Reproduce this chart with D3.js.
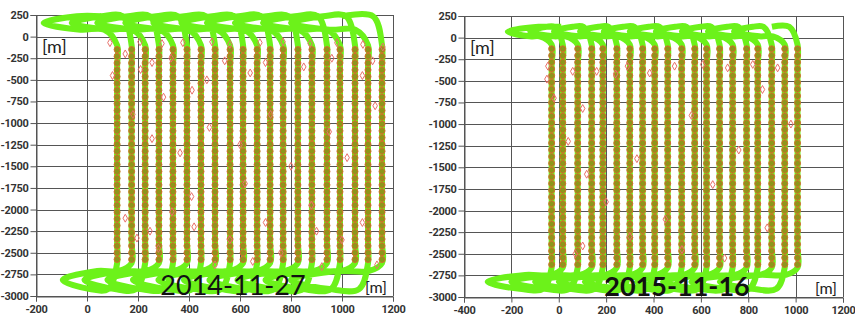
<!DOCTYPE html>
<html>
<head>
<meta charset="utf-8">
<script src="https://cdn.jsdelivr.net/npm/d3@7"></script>
<style>
  body { margin: 0; background: #fff; }
  .tick text { font-family: Roboto, "Liberation Sans", sans-serif; font-weight: bold; font-size: 11px; fill: #333; letter-spacing: -0.3px; }
  .tick line, .domain { stroke: #555; }
  .unit { font-family: Lato, "Open Sans", sans-serif; font-size: 18px; fill: #222; }
  .date { font-family: Lato, "Open Sans", sans-serif; font-size: 27px; fill: #111; }
</style>
</head>
<body>
<svg id="chart" width="855" height="320"></svg>
<script>

////////// Data ///////////

var yTicks = [250, 0, -250, -500, -750, -1000, -1250, -1500, -1750, -2000, -2250, -2500, -2750, -3000];
var xTicks2014 = [-200, 0, 200, 400, 600, 800, 1000, 1200];
var xTicks2015 = [-400, -200, 0, 200, 400, 600, 800, 1000, 1200];

// flight legs (x of each line, in flying order: down, up, down, ...)
var legs2014 = [118, 175, 228, 282, 337, 392, 447, 502, 561, 612, 667, 718, 769, 827, 882, 941, 992, 1051, 1102, 1157];
// west end of the turn loops (top: one per down leg + end point, bottom: one per up leg)
var topWest2014 = [-170, -60, 40, 150, 260, 370, 470, 580, 690, 800, 1000];
var botWest2014 = [-95, -10, 80, 180, 280, 380, 480, 590, 700, 800];
// [loop top, loop bottom, leg top, leg bottom, bottom loop top, bottom loop bottom]
var levels2014 = [235, 80, -100, -2620, -2710, -2920];

var legs2015 = [-30, 17, 80, 139, 186, 245, 300, 354, 405, 460, 519, 574, 624, 679, 734, 793, 840, 899, 954, 1008];
var topWest2015 = [-215, -120, -20, 90, 190, 300, 410, 520, 630, 740, 900];
var botWest2015 = [-300, -200, -100, 0, 110, 220, 330, 440, 560, 680];
var levels2015 = [125, 15, -80, -2660, -2745, -2905];

// measurement depths along each leg
var samples2014 = [-150, -228, -305, -385, -462, -540, -620, -698, -775, -855, -932, -1010, -1090, -1168, -1245, -1325,
  -1402, -1480, -1560, -1638, -1715, -1795, -1872, -1950, -2030, -2108, -2185, -2265, -2342, -2420, -2500, -2578];
var samples2015 = [-130, -208, -285, -362, -440, -518, -596, -674, -752, -830, -908, -986, -1064, -1142, -1220, -1298,
  -1376, -1454, -1532, -1610, -1688, -1766, -1844, -1922, -2000, -2078, -2156, -2234, -2312, -2390, -2468, -2546, -2624];

// stray points (red diamonds)
var stray2014 = [[90, -70], [208, -60], [294, -80], [376, -70], [490, -60], [560, -90], [678, -70], [769, -60], [875, -80],
  [980, -70], [1082, -90], [1160, -120], [100, -450], [150, -200], [210, -380], [255, -300], [330, -250], [412, -620],
  [470, -500], [540, -280], [640, -420], [700, -300], [850, -350], [960, -250], [1120, -280], [1080, -450],
  [255, -1180], [365, -1345], [180, -900], [300, -700], [480, -1050], [600, -1250], [720, -900], [800, -1500],
  [950, -1100], [1020, -1400], [1130, -800], [620, -1700], [410, -1850], [880, -1950],
  [196, -2330], [247, -2250], [333, -2025], [280, -2450], [420, -2200], [502, -2640], [560, -2350], [700, -2150],
  [760, -2500], [900, -2250], [921, -2660], [1000, -2350], [1137, -2640], [1080, -2150], [650, -2600], [150, -2100]];
var stray2015 = [[-46, -330], [-50, -480], [59, -390], [101, -820], [160, -390], [240, -420], [290, -330], [384, -410],
  [489, -330], [608, -310], [713, -350], [819, -310], [924, -350], [118, -1580], [101, -2410], [-20, -700],
  [40, -1200], [200, -1900], [330, -1400], [450, -2100], [560, -900], [650, -1700], [760, -1300], [880, -2200],
  [980, -1000], [70, -2500], [520, -2450], [300, -2300], [860, -600], [700, -2550]];

////////// Track ///////////

function build_track(legs, topWest, botWest, lv) {
  var N = lv[0], S = lv[1], top = lv[2], bot = lv[3], Nb = lv[4], Sb = lv[5];
  var pts = [];
  legs.forEach(function(lx, i) {
    if (i % 2 == 0) {
      // top loop then down leg
      var w = topWest[i / 2];
      var px = i > 0 ? legs[i - 1] : w + 260;
      pts.push([px - 35, N], [(px + w) / 2, N], [w, (N + S) / 2], [(w + lx) / 2, S], [lx - 50, S]);
      pts.push([lx, top], [lx, top - 250], [lx, bot + 250], [lx, bot]);
    } else {
      // bottom loop then up leg
      var wb = botWest[(i - 1) / 2], pb = legs[i - 1];
      pts.push([pb - 35, Sb], [(pb + wb) / 2, Sb], [wb, (Nb + Sb) / 2], [(wb + lx) / 2, Nb], [lx - 50, Nb]);
      pts.push([lx, bot], [lx, bot + 250], [lx, top - 250], [lx, top]);
    }
  });
  var last = legs[legs.length - 1];
  pts.push([last - 35, N], [topWest[topWest.length - 1], N]);
  return pts;
}

function draw_panel(cfg) {
  var svg = d3.select("#chart");
  var x = d3.scaleLinear().domain(cfg.xDomain).range(cfg.xRange);
  var y = d3.scaleLinear().domain([-3000, 250]).range(cfg.yRange);
  var g = svg.append("g");

  // grid
  g.selectAll(".vgrid").data(cfg.xTicks).enter().append("line")
    .attr("x1", function(d) { return Math.round(x(d)) + 0.5; })
    .attr("x2", function(d) { return Math.round(x(d)) + 0.5; })
    .attr("y1", y(250)).attr("y2", y(-3000))
    .style("stroke", "#555").style("stroke-width", 1);
  g.selectAll(".hgrid").data(yTicks).enter().append("line")
    .attr("x1", x(cfg.xDomain[0])).attr("x2", x(cfg.xDomain[1]))
    .attr("y1", function(d) { return Math.round(y(d)) + 0.5; })
    .attr("y2", function(d) { return Math.round(y(d)) + 0.5; })
    .style("stroke", "#555").style("stroke-width", 1);

  // axes
  g.append("g")
    .attr("transform", "translate(" + (Math.round(x(cfg.xDomain[0])) + 0.5) + ",0)")
    .call(d3.axisLeft(y).tickValues(yTicks).tickSize(6).tickPadding(2).tickFormat(function(d) { return String(d); }));
  g.append("g")
    .attr("transform", "translate(0," + (Math.round(y(-3000)) + 0.5) + ")")
    .call(d3.axisBottom(x).tickValues(cfg.xTicks).tickSize(5).tickPadding(4).tickFormat(function(d) { return String(d); }));

  // flight track
  var line = d3.line()
    .x(function(d) { return x(d[0]); })
    .y(function(d) { return y(d[1]); })
    .curve(d3.curveCatmullRom.alpha(0.5));
  g.append("path")
    .datum(build_track(cfg.legs, cfg.topWest, cfg.botWest, cfg.levels))
    .attr("d", line)
    .style("fill", "none")
    .style("stroke", "#6cf21a")
    .style("stroke-width", 6)
    .style("stroke-linejoin", "round");

  // measurement points along the legs
  var pts = [];
  cfg.legs.forEach(function(lx) {
    cfg.samples.forEach(function(sy) { pts.push([lx, sy]); });
  });
  g.selectAll(".meas").data(pts).enter().append("circle")
    .attr("cx", function(d) { return x(d[0]); })
    .attr("cy", function(d) { return y(d[1]); })
    .attr("r", 3)
    .style("fill", "#8e961a")
    .style("stroke", "#d2702c")
    .style("stroke-width", 1);

  // stray points
  g.selectAll(".stray").data(cfg.stray).enter().append("path")
    .attr("d", d3.symbol(d3.symbolDiamond, 18))
    .attr("transform", function(d) { return "translate(" + x(d[0]) + "," + y(d[1]) + ")"; })
    .style("fill", "none")
    .style("stroke", "#e8706a")
    .style("stroke-width", 1);

  // labels
  g.append("text").attr("class", "unit")
    .attr("x", x(cfg.xDomain[0]) + 6).attr("y", y(250) + 38)
    .text("[m]");
  g.append("text").attr("class", "unit")
    .attr("x", x(cfg.xDomain[1]) - 6).attr("y", y(-3000) - 3)
    .attr("text-anchor", "end")
    .style("font-size", "16px")
    .text("[m]");
  g.append("text").attr("class", "date")
    .attr("x", cfg.dateX).attr("y", y(-3000) - 1)
    .attr("text-anchor", "middle")
    .style("font-weight", cfg.dateWeight)
    .text(cfg.date);
}

draw_panel({
  xDomain: [-200, 1200], xRange: [36, 393], yRange: [296, 15],
  xTicks: xTicks2014, legs: legs2014, topWest: topWest2014, botWest: botWest2014,
  levels: levels2014, samples: samples2014, stray: stray2014,
  date: "2014-11-27", dateX: 233, dateWeight: "normal"
});
draw_panel({
  xDomain: [-400, 1200], xRange: [464, 843], yRange: [297, 16],
  xTicks: xTicks2015, legs: legs2015, topWest: topWest2015, botWest: botWest2015,
  levels: levels2015, samples: samples2015, stray: stray2015,
  date: "2015-11-16", dateX: 677, dateWeight: "bold"
});
</script>
</body>
</html>
